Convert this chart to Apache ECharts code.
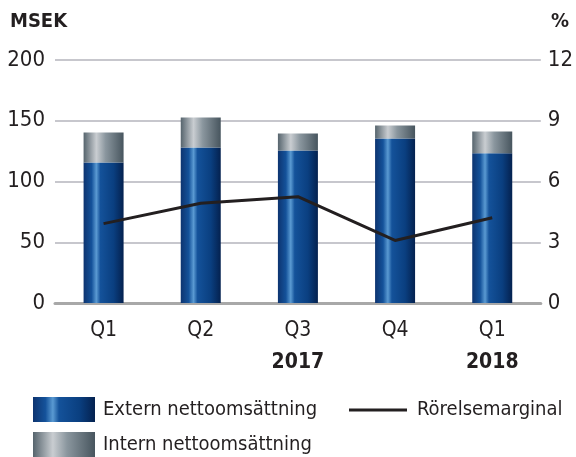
<!DOCTYPE html>
<html><head><meta charset="utf-8">
<script src="https://cdn.jsdelivr.net/npm/echarts@6/dist/echarts.min.js"></script>
<style>html,body{margin:0;padding:0;background:#fff}#c{width:576px;height:457px}</style>
</head><body><div id="c"></div>
<script>
const categories = ['Q1','Q2','Q3','Q4','Q1'];
const years = ['', '', '2017', '', '2018'];
const externSales = [115.7, 128.0, 125.6, 135.4, 123.2];
const internSales = [24.7, 24.7, 14.0, 10.7, 18.0];
const operatingMargin = [3.92, 4.93, 5.25, 3.09, 4.21];
const leftTicks = {min: 0, max: 200, interval: 50};
const rightTicks = {min: 0, max: 12, interval: 3};

const FONT = "'DejaVu Sans Condensed','Liberation Sans',sans-serif";
const TXT = '#231f20';

const blueGrad = new echarts.graphic.LinearGradient(0,0,1,0,[
  {offset:0,color:'#0d3470'},{offset:0.2,color:'#14529a'},{offset:0.32,color:'#5a9ad2'},
  {offset:0.42,color:'#14529a'},{offset:0.75,color:'#0a3f80'},{offset:1,color:'#04214f'}]);
const grayGrad = new echarts.graphic.LinearGradient(0,0,1,0,[
  {offset:0,color:'#56646d'},{offset:0.32,color:'#c9cdd1'},{offset:0.55,color:'#8a969e'},
  {offset:1,color:'#47555e'}]);

const legText = {fontFamily:FONT, fontSize:20, color:TXT, padding:[0,0,0,3]};
const chart = echarts.init(document.getElementById('c'), null, {renderer:'canvas'});
chart.setOption({
  animation:false,
  grid:{left:55, right:35, top:60, bottom:154, containLabel:false},
  legend:[{
    data:['Extern nettoomsättning'], left:33, top:397, itemWidth:62, itemHeight:25,
    icon:'rect', textStyle:legText, selectedMode:false, padding:0
  },{
    data:['Intern nettoomsättning'], left:33, top:432, itemWidth:62, itemHeight:25,
    icon:'rect', textStyle:legText, selectedMode:false, padding:0
  },{
    data:['Rörelsemarginal'], left:349, top:390, itemWidth:58, itemHeight:3,
    icon:'rect', textStyle:Object.assign({}, legText, {padding:[0,0,0,5]}),
    selectedMode:false, padding:[10,0,10,0],
    itemStyle:{color:TXT}
  }],
  xAxis:{
    type:'category', data:categories,
    axisLine:{show:true, lineStyle:{color:'#a8a8a8', width:3}},
    axisTick:{show:false},
    axisLabel:{
      interval:0, margin:12, color:TXT, fontFamily:FONT, fontSize:21,
      formatter:(v,i)=> v+'\n{y|'+(years[i]||' ')+'}',
      lineHeight:32,
      rich:{y:{fontFamily:FONT, fontSize:21, fontWeight:'bold', color:TXT, lineHeight:32}}
    }
  },
  yAxis:[{
    type:'value', min:leftTicks.min, max:leftTicks.max, interval:leftTicks.interval,
    axisLine:{show:false}, axisTick:{show:false},
    splitLine:{lineStyle:{color:'#b4b4bc', width:1.5}},
    axisLabel:{margin:10, color:TXT, fontFamily:FONT, fontSize:22}
  },{
    type:'value', min:rightTicks.min, max:rightTicks.max, interval:rightTicks.interval,
    axisLine:{show:false}, axisTick:{show:false}, splitLine:{show:false},
    axisLabel:{margin:7, color:TXT, fontFamily:FONT, fontSize:22}
  }],
  graphic:[
    {type:'text', left:10, top:12, style:{text:'MSEK', fontFamily:FONT, fontSize:20, fontWeight:'bold', fill:TXT}},
    {type:'text', left:551, top:12, style:{text:'%', fontFamily:FONT, fontSize:20, fontWeight:'bold', fill:TXT}}
  ],
  series:[{
    name:'Extern nettoomsättning', type:'bar', stack:'s', barWidth:40,
    data:externSales, itemStyle:{color:blueGrad}
  },{
    name:'Intern nettoomsättning', type:'bar', stack:'s', barWidth:40,
    data:internSales, itemStyle:{color:grayGrad}
  },{
    name:'Rörelsemarginal', type:'line', yAxisIndex:1, data:operatingMargin,
    symbol:'none', lineStyle:{color:TXT, width:3}, itemStyle:{color:TXT}, z:5
  }]
});
</script></body></html>
